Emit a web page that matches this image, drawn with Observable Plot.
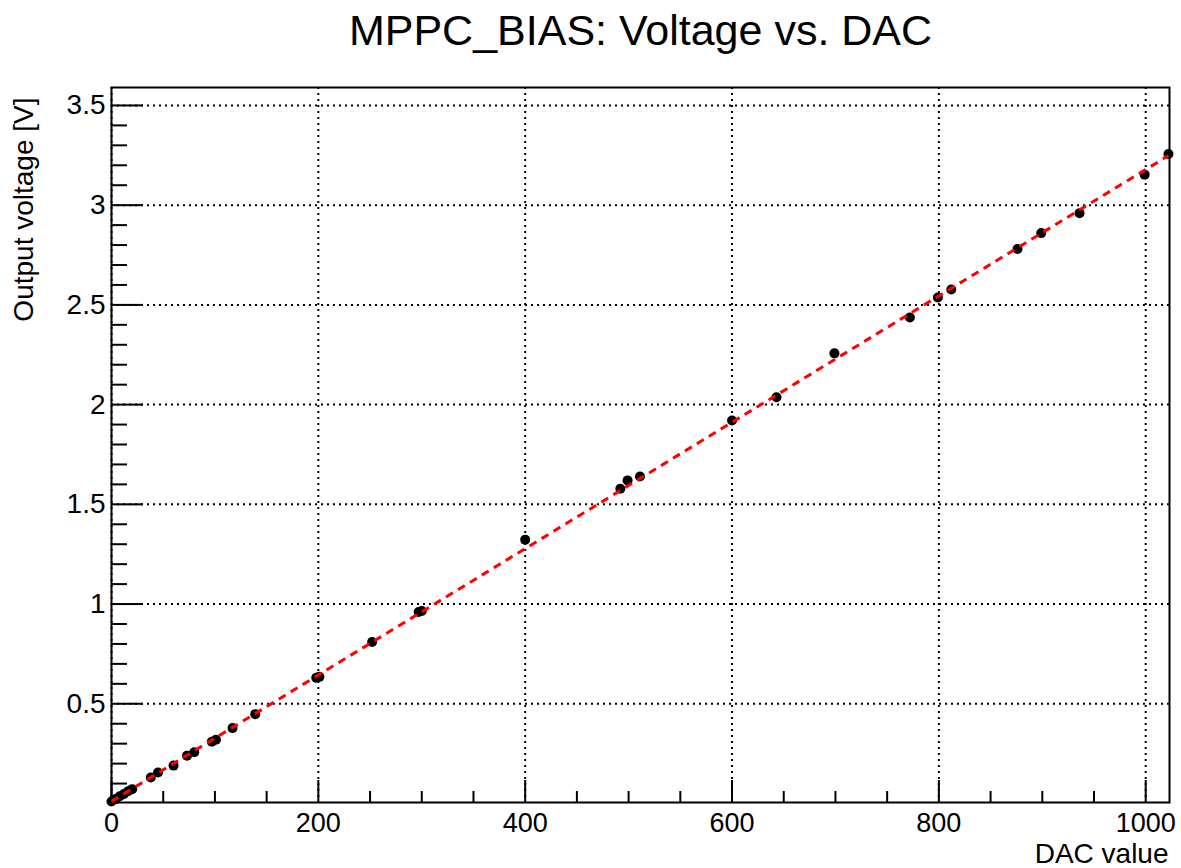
<!DOCTYPE html>
<html>
<head>
<meta charset="utf-8">
<script src="https://cdn.jsdelivr.net/npm/d3@7"></script>
<script src="https://cdn.jsdelivr.net/npm/@observablehq/plot@0.6"></script>
<style>
  html, body { margin: 0; padding: 0; background: #fff; overflow: hidden; }
  #chart svg { display: block; }
</style>
</head>
<body>
<div id="chart"></div>
<script>
// ---- data ----
const dacValues = [0, 4, 8, 12, 16, 20, 38, 45, 60, 73, 80, 97, 101, 117, 139, 198, 201, 252, 297, 300,
                   400, 492, 499, 511, 600, 643, 699, 772, 799, 812, 876, 899, 936, 999, 1022];
const voltValues = [0.01, 0.022, 0.036, 0.048, 0.061, 0.072, 0.13, 0.155, 0.19, 0.24, 0.257, 0.31, 0.32, 0.378, 0.448, 0.63, 0.635, 0.81, 0.96, 0.965,
                    1.323, 1.578, 1.62, 1.64, 1.92, 2.037, 2.257, 2.437, 2.537, 2.577, 2.78, 2.86, 2.96, 3.153, 3.257];

const xMajorTicks = [0, 200, 400, 600, 800, 1000];
const xMinorTicks = [50, 100, 150, 250, 300, 350, 450, 500, 550, 650, 700, 750, 850, 900, 950];
const yMajorTicks = [0.5, 1, 1.5, 2, 2.5, 3, 3.5];
const yMinorTicks = [0.1, 0.2, 0.3, 0.4, 0.6, 0.7, 0.8, 0.9, 1.1, 1.2, 1.3, 1.4, 1.6, 1.7, 1.8, 1.9,
                     2.1, 2.2, 2.3, 2.4, 2.6, 2.7, 2.8, 2.9, 3.1, 3.2, 3.3, 3.4];

const titleText = "MPPC_BIAS: Voltage vs. DAC";
const xTitle = "DAC value";
const yTitle = "Output voltage [V]";

const xDomain = [0, 1023];
const yDomain = [0.005, 3.59];

const points = dacValues.map((d, i) => ({dac: d, volt: voltValues[i]}));

// ---- layout ----
const W = 1181, H = 868;
const mL = 111, mR = 12, mT = 87, mB = 66;
const innerW = W - mL - mR, innerH = H - mT - mB;
const font = "Liberation Sans, Arial, Helvetica, sans-serif";

const chart = Plot.plot({
  width: W,
  height: H,
  marginLeft: mL,
  marginRight: mR,
  marginTop: mT,
  marginBottom: mB,
  style: {fontFamily: font, background: "#fff", color: "#000"},
  x: {domain: xDomain, axis: null},
  y: {domain: yDomain, axis: null},
  marks: [
    // dotted grid at major ticks
    Plot.gridX(xMajorTicks, {stroke: "#000", strokeOpacity: 1, strokeWidth: 2, strokeDasharray: "2,4"}),
    Plot.gridY(yMajorTicks, {stroke: "#000", strokeOpacity: 1, strokeWidth: 2, strokeDasharray: "2,4"}),
    // frame box
    Plot.frame({stroke: "#000", strokeWidth: 2}),
    // inward ticks on bottom axis
    Plot.tickX(xMajorTicks, {x: d => d, insetTop: innerH - 22, stroke: "#000", strokeWidth: 2}),
    Plot.tickX(xMinorTicks, {x: d => d, insetTop: innerH - 11, stroke: "#000", strokeWidth: 2}),
    // inward ticks on left axis
    Plot.tickY(yMajorTicks, {y: d => d, insetRight: innerW - 32, stroke: "#000", strokeWidth: 2}),
    Plot.tickY(yMinorTicks, {y: d => d, insetRight: innerW - 16, stroke: "#000", strokeWidth: 2}),
    // tick labels
    Plot.axisX(xMajorTicks, {anchor: "bottom", tickSize: 0, tickPadding: 10, fontSize: 27, label: null,
      tickFormat: d => `${d}`, fill: "#000"}),
    Plot.axisY(yMajorTicks, {anchor: "left", tickSize: 0, tickPadding: 6, fontSize: 28, label: null,
      tickFormat: d => `${d}`, fill: "#000"}),
    // data points
    Plot.dot(points, {x: "dac", y: "volt", r: 5, fill: "#000", stroke: "none"}),
    // linear fit
    Plot.linearRegressionY(points, {x: "dac", y: "volt", ci: 0, stroke: "#ff0000", strokeWidth: 3,
      strokeDasharray: "8,6", strokeLinecap: "butt"}),
    // titles
    Plot.text([titleText], {frameAnchor: "top", dy: -(mT - 31), fontSize: 43, lineAnchor: "middle",
      textAnchor: "middle", fill: "#000"}),
    Plot.text([xTitle], {frameAnchor: "bottom-right", dx: -1, dy: 52, fontSize: 28, lineAnchor: "middle",
      textAnchor: "end", fill: "#000"}),
    Plot.text([yTitle], {frameAnchor: "top-left", dx: -(mL - 24), dy: 10, rotate: -90, fontSize: 28,
      lineAnchor: "middle", textAnchor: "end", fill: "#000"})
  ]
});

document.getElementById("chart").appendChild(chart);
</script>
</body>
</html>
